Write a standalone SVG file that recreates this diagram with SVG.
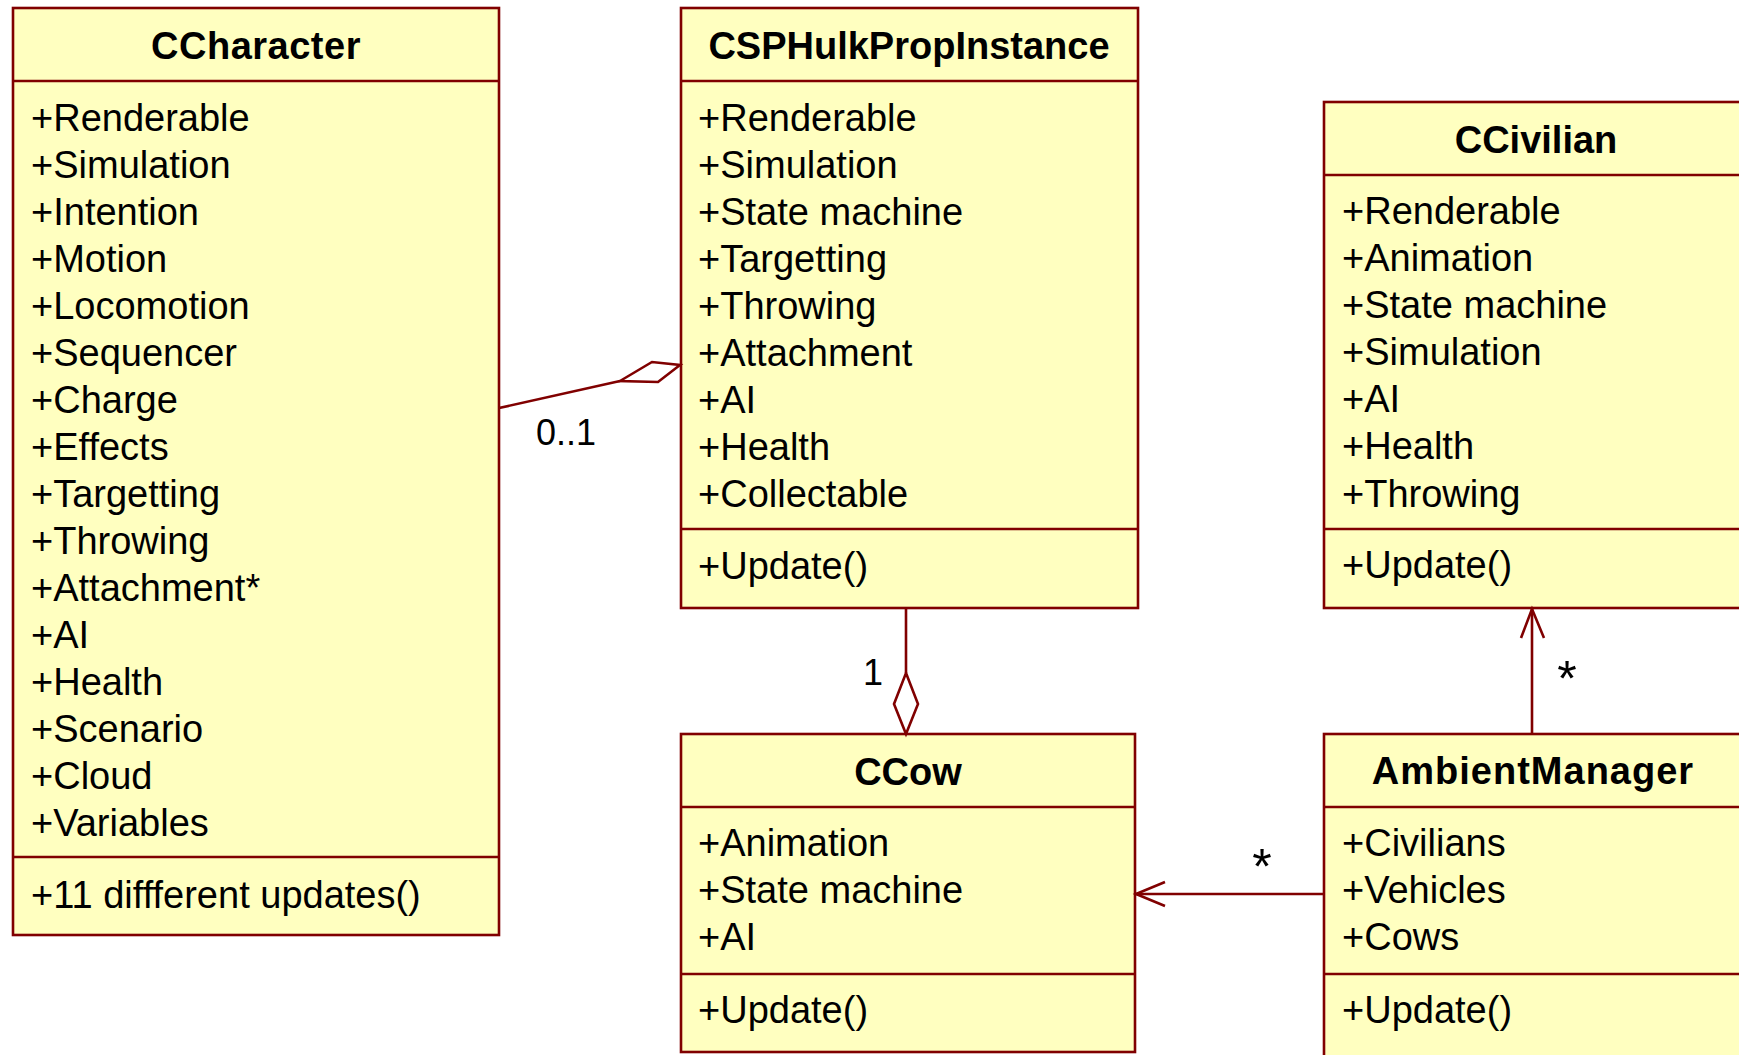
<svg xmlns="http://www.w3.org/2000/svg" width="1739" height="1055" viewBox="0 0 1739 1055">
<style>
.box{fill:#FFFFC0;stroke:#800000;stroke-width:2.6}
.div{stroke:#800000;stroke-width:2.6;fill:none}
.t{font-family:"Liberation Sans",Arial,sans-serif;font-size:38px;fill:#000}
.h{font-family:"Liberation Sans",Arial,sans-serif;font-size:38px;font-weight:bold;fill:#000;text-anchor:middle}
.c{stroke:#800000;stroke-width:2.6;fill:none}
.dm{stroke:#800000;stroke-width:2.6;fill:#fff}
.l{font-family:"Liberation Sans",Arial,sans-serif;font-size:36px;fill:#000}
.s{font-family:"Liberation Sans",Arial,sans-serif;font-size:50px;fill:#000;text-anchor:middle}
</style>
<rect width="1739" height="1055" fill="#fff"/>
<g id="CCharacter">
<rect class="box" x="13" y="8" width="486" height="927"/>
<line class="div" x1="13" y1="81" x2="499" y2="81"/>
<line class="div" x1="13" y1="857" x2="499" y2="857"/>
<text class="h" x="256" y="59" letter-spacing="0.5">CCharacter</text>
<text class="t" x="31" y="131">+Renderable</text>
<text class="t" x="31" y="178">+Simulation</text>
<text class="t" x="31" y="225">+Intention</text>
<text class="t" x="31" y="272">+Motion</text>
<text class="t" x="31" y="319">+Locomotion</text>
<text class="t" x="31" y="366">+Sequencer</text>
<text class="t" x="31" y="413">+Charge</text>
<text class="t" x="31" y="460">+Effects</text>
<text class="t" x="31" y="507">+Targetting</text>
<text class="t" x="31" y="554">+Throwing</text>
<text class="t" x="31" y="601">+Attachment*</text>
<text class="t" x="31" y="648">+AI</text>
<text class="t" x="31" y="695">+Health</text>
<text class="t" x="31" y="742">+Scenario</text>
<text class="t" x="31" y="789">+Cloud</text>
<text class="t" x="31" y="836">+Variables</text>
<text class="t" x="31" y="908">+11 diffferent updates()</text>
</g>
<g id="CSPHulkPropInstance">
<rect class="box" x="681" y="8" width="457" height="600"/>
<line class="div" x1="681" y1="81" x2="1138" y2="81"/>
<line class="div" x1="681" y1="529" x2="1138" y2="529"/>
<text class="h" x="909" y="59">CSPHulkPropInstance</text>
<text class="t" x="698" y="131">+Renderable</text>
<text class="t" x="698" y="178">+Simulation</text>
<text class="t" x="698" y="225">+State machine</text>
<text class="t" x="698" y="272">+Targetting</text>
<text class="t" x="698" y="319">+Throwing</text>
<text class="t" x="698" y="366">+Attachment</text>
<text class="t" x="698" y="413">+AI</text>
<text class="t" x="698" y="460">+Health</text>
<text class="t" x="698" y="507">+Collectable</text>
<text class="t" x="698" y="579">+Update()</text>
</g>
<g id="CCivilian">
<rect class="box" x="1324" y="102" width="430" height="506"/>
<line class="div" x1="1324" y1="175" x2="1754" y2="175"/>
<line class="div" x1="1324" y1="529" x2="1754" y2="529"/>
<text class="h" x="1536" y="153">CCivilian</text>
<text class="t" x="1342" y="224">+Renderable</text>
<text class="t" x="1342" y="271">+Animation</text>
<text class="t" x="1342" y="318">+State machine</text>
<text class="t" x="1342" y="365">+Simulation</text>
<text class="t" x="1342" y="412">+AI</text>
<text class="t" x="1342" y="459">+Health</text>
<text class="t" x="1342" y="507">+Throwing</text>
<text class="t" x="1342" y="578">+Update()</text>
</g>
<g id="CCow">
<rect class="box" x="681" y="734" width="454" height="318"/>
<line class="div" x1="681" y1="807" x2="1135" y2="807"/>
<line class="div" x1="681" y1="974" x2="1135" y2="974"/>
<text class="h" x="908" y="785">CCow</text>
<text class="t" x="698" y="856">+Animation</text>
<text class="t" x="698" y="903">+State machine</text>
<text class="t" x="698" y="950">+AI</text>
<text class="t" x="698" y="1023">+Update()</text>
</g>
<g id="AmbientManager">
<rect class="box" x="1324" y="734" width="430" height="330"/>
<line class="div" x1="1324" y1="807" x2="1754" y2="807"/>
<line class="div" x1="1324" y1="974" x2="1754" y2="974"/>
<text class="h" x="1533" y="784" letter-spacing="1">AmbientManager</text>
<text class="t" x="1342" y="856">+Civilians</text>
<text class="t" x="1342" y="903">+Vehicles</text>
<text class="t" x="1342" y="950">+Cows</text>
<text class="t" x="1342" y="1023">+Update()</text>
</g>
<g id="connectors">
<line class="c" x1="499" y1="408" x2="620" y2="381"/>
<polygon class="dm" points="620,381 652,362 680,365 658,382"/>
<text class="l" x="536" y="445">0..1</text>
<line class="c" x1="906" y1="608" x2="906" y2="673"/>
<polygon class="dm" points="906,673 918,704 906,734 894,704"/>
<text class="l" x="873" y="685" text-anchor="middle">1</text>
<line class="c" x1="1532" y1="734" x2="1532" y2="609"/>
<polyline class="c" points="1521,638 1532,609 1544,638"/>
<text class="s" x="1567" y="696">*</text>
<line class="c" x1="1324" y1="894" x2="1136" y2="894"/>
<polyline class="c" points="1165,882 1136,894 1165,906"/>
<text class="s" x="1262" y="884">*</text>
</g>
</svg>
